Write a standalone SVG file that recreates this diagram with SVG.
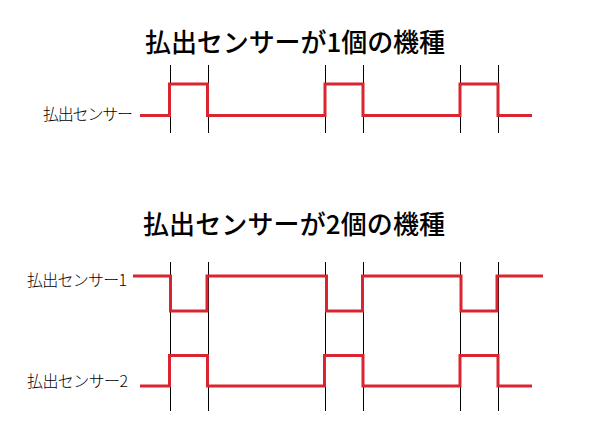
<svg xmlns="http://www.w3.org/2000/svg" width="589" height="432" viewBox="0 0 589 432">
<style>
.title{font-family:"Noto Sans CJK JP","Noto Sans CJK SC",sans-serif;font-size:26px;font-weight:500;fill:#000}
.lbl{font-family:"Noto Sans CJK JP","Noto Sans CJK SC",sans-serif;font-size:16px;font-weight:300;fill:#000}
.sig{fill:none;stroke:#d9252f;stroke-width:3;stroke-linejoin:miter}
.tick{stroke:#000;stroke-width:1;shape-rendering:crispEdges}
</style>
<rect width="589" height="432" fill="#fff"/>
<g id="title1"><text class="title" x="145" y="52" textLength="300">払出センサーが1個の機種</text></g>
<g id="title2"><text class="title" x="143" y="234" textLength="302">払出センサーが2個の機種</text></g>
<g id="label1"><text class="lbl" x="43" y="120" textLength="90">払出センサー</text></g>
<g id="label2"><text class="lbl" x="27" y="286" textLength="100">払出センサー1</text></g>
<g id="label3"><text class="lbl" x="27" y="387" textLength="101">払出センサー2</text></g>
<g id="connectors">
<g id="ticks-top">
<line class="tick" x1="170.5" y1="65" x2="170.5" y2="133"/>
<line class="tick" x1="208.5" y1="65" x2="208.5" y2="133"/>
<line class="tick" x1="325.5" y1="65" x2="325.5" y2="133"/>
<line class="tick" x1="363.5" y1="65" x2="363.5" y2="133"/>
<line class="tick" x1="460.5" y1="65" x2="460.5" y2="133"/>
<line class="tick" x1="498.5" y1="65" x2="498.5" y2="133"/>
</g>
<g id="ticks-bottom">
<line class="tick" x1="170.5" y1="262" x2="170.5" y2="411"/>
<line class="tick" x1="208.5" y1="262" x2="208.5" y2="411"/>
<line class="tick" x1="325.5" y1="262" x2="325.5" y2="411"/>
<line class="tick" x1="363.5" y1="262" x2="363.5" y2="411"/>
<line class="tick" x1="460.5" y1="262" x2="460.5" y2="411"/>
<line class="tick" x1="498.5" y1="262" x2="498.5" y2="411"/>
</g>
<path id="sig-top" class="sig" d="M140 115.5H169.5V84H207.5V115.5H325V84H363V115.5H460V84H498V115.5H532"/>
<path id="sig-1" class="sig" d="M133 276H170.5V311H207V276H326.5V311H362.5V276H461V311H497V276H543"/>
<path id="sig-2" class="sig" d="M140 386H169.5V355.5H207.5V386H324.5V355.5H363V386H460V355.5H498V386H532"/>
</g>
</svg>
